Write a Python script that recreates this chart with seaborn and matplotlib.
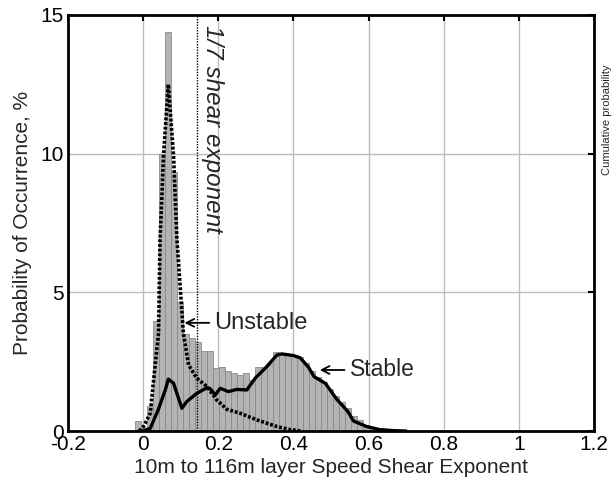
import matplotlib
matplotlib.use("Agg")
import matplotlib.pyplot as plt
import seaborn as sns
import numpy as np
import pandas as pd

# ---- data ----
bin_width = 0.016
bin_centers = [-0.015, 0.001, 0.017, 0.033, 0.049, 0.065, 0.081, 0.097, 0.113, 0.129,
               0.145, 0.161, 0.177, 0.193, 0.209, 0.225, 0.241, 0.257, 0.273, 0.289,
               0.305, 0.321, 0.337, 0.353, 0.369, 0.385, 0.401, 0.417, 0.433, 0.449,
               0.465, 0.481, 0.497, 0.513, 0.529, 0.545, 0.561, 0.577, 0.593, 0.609,
               0.625, 0.641, 0.657]
bin_heights = [0.35, 0.12, 0.9, 3.95, 10.0, 14.4, 9.35, 4.66, 3.5, 3.35,
               3.2, 2.88, 2.9, 2.27, 2.32, 2.18, 2.08, 2.02, 2.08, 1.84,
               2.3, 2.32, 2.44, 2.85, 2.8, 2.78, 2.72, 2.66, 2.45, 2.15,
               1.95, 1.75, 1.5, 1.28, 1.05, 0.82, 0.55, 0.38, 0.2, 0.1,
               0.05, 0.03, 0.02]

unstable_x = [-0.01, 0.001, 0.019, 0.027, 0.041, 0.045, 0.05, 0.054, 0.067, 0.081,
              0.09, 0.098, 0.107, 0.121, 0.143, 0.17, 0.196, 0.223, 0.258, 0.303,
              0.356, 0.39, 0.42]
unstable_y = [0.0, 0.16, 0.64, 1.72, 3.53, 6.9, 8.5, 9.9, 12.5, 9.9,
              6.9, 5.33, 3.53, 2.38, 1.9, 1.6, 1.12, 0.78, 0.64, 0.4,
              0.16, 0.05, 0.0]

stable_x = [-0.01, 0.0, 0.019, 0.04, 0.059, 0.067, 0.081, 0.103, 0.116, 0.143,
            0.17, 0.178, 0.192, 0.205, 0.227, 0.249, 0.276, 0.298, 0.329, 0.356,
            0.369, 0.4, 0.418, 0.44, 0.455, 0.485, 0.515, 0.545, 0.56, 0.595,
            0.63, 0.67, 0.7]
stable_y = [0.0, 0.0, 0.1, 0.76, 1.48, 1.87, 1.72, 0.82, 1.06, 1.36,
            1.56, 1.53, 1.3, 1.54, 1.42, 1.5, 1.48, 1.9, 2.32, 2.74,
            2.78, 2.72, 2.64, 2.3, 1.96, 1.72, 1.15, 0.7, 0.36, 0.16,
            0.05, 0.01, 0.0]

x_ticks = [-0.2, 0.0, 0.2, 0.4, 0.6, 0.8, 1.0, 1.2]
x_tick_labels = ["-0.2", "0", "0.2", "0.4", "0.6", "0.8", "1", "1.2"]
y_ticks = [0, 5, 10, 15]
shear_17 = 1 / 7

# ---- plotting ----
sns.set_style("white")
plt.rcParams["font.family"] = ["Liberation Sans", "DejaVu Sans"]

fig = plt.figure(figsize=(6.16, 4.90), dpi=100)
ax = fig.add_axes([68 / 616, 1 - 431 / 490, (594 - 68) / 616, (431 - 15) / 490])

edges = np.round(np.array(bin_centers) - bin_width / 2, 4).tolist()
edges.append(round(bin_centers[-1] + bin_width / 2, 4))
hist_df = pd.DataFrame({"x": bin_centers, "w": bin_heights})
sns.histplot(data=hist_df, x="x", weights="w", bins=edges, ax=ax,
             color="#b3b3b3", edgecolor="#8a8a8a", linewidth=0.6, alpha=1.0,
             zorder=2)

sns.lineplot(x=unstable_x, y=unstable_y, ax=ax, color="black", lw=2.6,
             linestyle=(0, (0.8, 0.5)), sort=False, zorder=4)
sns.lineplot(x=stable_x, y=stable_y, ax=ax, color="black", lw=2.4,
             sort=False, zorder=4)

ax.axvline(shear_17, color="black", lw=1.0, linestyle=(0, (1, 1)), zorder=5)
ax.text(shear_17 + 0.011, 14.65, "1/7 shear exponent", rotation=-90,
        fontsize=17.5, style="italic", ha="left", va="top", zorder=6)

# arrows + labels
ax.annotate("", xy=(0.110, 3.9), xytext=(0.176, 3.9),
            arrowprops=dict(arrowstyle="->", lw=1.3, color="black",
                            mutation_scale=14, shrinkA=0, shrinkB=0), zorder=6)
ax.text(0.188, 3.9, "Unstable", fontsize=17, ha="left", va="center", zorder=6)
ax.annotate("", xy=(0.470, 2.2), xytext=(0.536, 2.2),
            arrowprops=dict(arrowstyle="->", lw=1.3, color="black",
                            mutation_scale=14, shrinkA=0, shrinkB=0), zorder=6)
ax.text(0.550, 2.2, "Stable", fontsize=16.5, ha="left", va="center", zorder=6)

ax.set_xlim(-0.2, 1.2)
ax.set_ylim(0, 15)
ax.set_xticks(x_ticks)
ax.set_xticklabels(x_tick_labels)
ax.set_yticks(y_ticks)
ax.grid(True, color="#bdbdbd", lw=1.0, zorder=0)
ax.set_axisbelow(True)
ax.tick_params(direction="in", length=4, width=1.5, labelsize=15,
               top=True, right=True, colors="black", pad=3)
for s in ax.spines.values():
    s.set_color("black")
    s.set_linewidth(2.0)
    s.set_zorder(7)

ax.set_xlabel("10m to 116m layer Speed Shear Exponent", fontsize=15, labelpad=3)
ax.set_ylabel("Probability of Occurrence, %", fontsize=15, labelpad=6)

fig.text(607 / 616, 1 - 120 / 490, "Cumulative probability", rotation=90,
         fontsize=8, ha="center", va="center")

fig.savefig("out.png", dpi=100)
